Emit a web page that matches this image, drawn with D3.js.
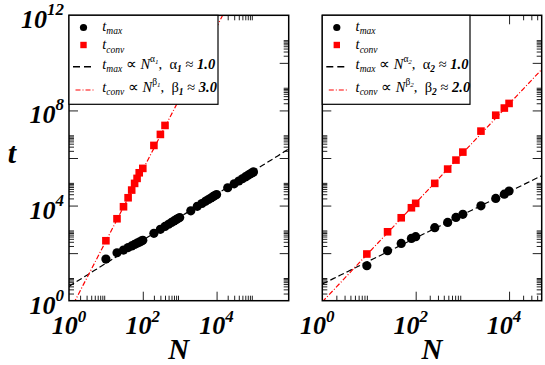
<!DOCTYPE html>
<html lang="en">
<head>
<meta charset="utf-8">
<title>t vs N</title>
<script src="https://cdn.jsdelivr.net/npm/d3@7"></script>
<style>
body { margin: 0; background: #fff; }
svg text { font-family: "Liberation Serif", "Times New Roman", serif; white-space: pre; }
</style>
</head>
<body>
<script>
// left panel data
var nMaxL = [10,20,30,40,50,60,70,80,90,100,200,300,400,500,600,700,800,900,1000,
             2000,3000,4000,5000,6000,7000,8000,9000,10000,
             20000,30000,40000,50000,60000,70000,80000,90000,100000];
var tMaxL = [56,104,135,172,200,232,262,290,318,345,680,1000,1330,1640,1950,2250,2560,2860,3150,
             6000,9300,12200,15100,18000,20800,23600,26400,29000,
             56000,82000,108000,134000,160000,185000,210000,236000,260000];
var nConvL = [10,20,30,40,50,60,70,80,100,200,300,400];
var tConvL = [332,2790,8910,21300,44800,85700,139000,239000,366000,3380000,9800000,23400000];

// right panel data
var nR = [9,25,49,81,100,256,484,729,1024,2500,5184,7921,10000];
var tMaxR = [29.5,126,257,417,490,1175,1950,3160,4270,9770,20000,30200,40700];
var tConvR = [92,790,3070,8090,12400,85700,342000,817000,1770000,13500000,63000000,126000000,197000000];

// fits: [prefactor, exponent]
var fitMaxL = [4.0, 0.97], fitConvL = [0.32, 3.0];
var fitMaxR = [5.0, 0.97], fitConvR = [0.89, 2.08];

var xMajor = [1, 100, 10000, 1000000];
var yMajor = [1, 100, 1e4, 1e6, 1e8, 1e10, 1e12];
var xLabelExp = [0, 2, 4];
var yLabelExp = [0, 4, 8, 12];

var panels = [
  {x0: 69, x1: 288.7, nTop: 9e5, nMax: nMaxL, tMax: tMaxL, nConv: nConvL, tConv: tConvL,
   fitMax: fitMaxL, fitConv: fitConvL, idx: "1", a: "1.0", b: "3.0", legW: 149, yLabels: true, labShift: 0},
  {x0: 322.3, x1: 541.7, nTop: 5e4, nMax: nR, tMax: tMaxR, nConv: nR, tConv: tConvR,
   fitMax: fitMaxR, fitConv: fitConvR, idx: "2", a: "1.0", b: "2.0", legW: 147.7, yLabels: false, labShift: -5}
];

var W = 545, H = 365, yTop = 15.3, yBot = 300.7;

var svg = d3.select("body").append("svg").attr("width", W).attr("height", H);

var y = d3.scaleLog().domain([1, 1e12]).range([yBot, yTop]);

function minors(decades, lo, hi) {
  var out = [];
  decades.forEach(function(d) {
    for (var k = 2; k <= 9; k++) {
      var v = k * Math.pow(10, d);
      if (v > lo && v < hi) out.push(v);
    }
  });
  return out;
}

// rich text: parts with size, baseline offset, style
function rich(g, x, yy, parts) {
  var t = g.append("text").attr("x", x).attr("y", yy);
  var prev = 0;
  parts.forEach(function(p) {
    var off = p.off || 0;
    t.append("tspan")
      .attr("dy", off - prev)
      .attr("font-size", p.s || 14.5)
      .attr("font-style", p.up ? "normal" : "italic")
      .attr("font-weight", p.b ? "bold" : "normal")
      .text(p.t);
    prev = off;
  });
  return t;
}

panels.forEach(function(p, pi) {
  var x = d3.scaleLog().domain([1, p.nTop]).range([p.x0, p.x1]);
  var g = svg.append("g");

  var clipId = "clip" + pi;
  svg.append("clipPath").attr("id", clipId).append("rect")
    .attr("x", p.x0).attr("y", yTop).attr("width", p.x1 - p.x0).attr("height", yBot - yTop);

  var xMin = minors([0, 2, 4], 1, p.nTop);
  var yMin = minors([0, 2, 4, 6, 8, 10], 1, 1e12);
  var xMaj = xMajor.filter(function(v) { return v > 1 && v < p.nTop; });
  var yMaj = yMajor.filter(function(v) { return v > 1 && v < 1e12; });

  function ax(axis, tr) {
    g.append("g").attr("class", "axis").attr("transform", tr).call(axis)
      .call(function(s) { s.select(".domain").remove(); })
      .selectAll("line").attr("stroke", "#222").attr("stroke-width", 1);
  }
  ax(d3.axisBottom(x).tickValues(xMaj).tickSize(-9).tickFormat(""), "translate(0," + yBot + ")");
  ax(d3.axisBottom(x).tickValues(xMin).tickSize(-5).tickFormat(""), "translate(0," + yBot + ")");
  ax(d3.axisTop(x).tickValues(xMaj).tickSize(-9).tickFormat(""), "translate(0," + yTop + ")");
  ax(d3.axisTop(x).tickValues(xMin).tickSize(-5).tickFormat(""), "translate(0," + yTop + ")");
  ax(d3.axisLeft(y).tickValues(yMaj).tickSize(-9).tickFormat(""), "translate(" + p.x0 + ",0)");
  ax(d3.axisLeft(y).tickValues(yMin).tickSize(-5).tickFormat(""), "translate(" + p.x0 + ",0)");
  ax(d3.axisRight(y).tickValues(yMaj).tickSize(-9).tickFormat(""), "translate(" + p.x1 + ",0)");
  ax(d3.axisRight(y).tickValues(yMin).tickSize(-5).tickFormat(""), "translate(" + p.x1 + ",0)");

  // fit lines
  var fitPts = function(f) {
    var ns = d3.range(0, 61).map(function(i) { return Math.pow(10, i * Math.log10(p.nTop) / 60); });
    return ns.map(function(n) { return [n, f[0] * Math.pow(n, f[1])]; });
  };
  var line = d3.line()
    .x(function(d) { return x(d[0]); })
    .y(function(d) { return y(Math.max(d[1], 1e-3)); });
  var lines = g.append("g").attr("clip-path", "url(#" + clipId + ")");
  lines.append("path").datum(fitPts(p.fitMax)).attr("d", line)
    .attr("fill", "none").attr("stroke", "#000").attr("stroke-width", 1.2).attr("stroke-dasharray", "6,3");
  lines.append("path").datum(fitPts(p.fitConv)).attr("d", line)
    .attr("fill", "none").attr("stroke", "#ff0000").attr("stroke-width", 1.2).attr("stroke-dasharray", "5,2,1,2");

  // markers
  lines.selectAll("circle.m").data(d3.zip(p.nMax, p.tMax)).enter().append("circle")
    .attr("cx", function(d) { return x(d[0]); })
    .attr("cy", function(d) { return y(d[1]); })
    .attr("r", 4.6).attr("fill", "#000");
  lines.selectAll("rect.c").data(d3.zip(p.nConv, p.tConv)).enter().append("rect")
    .attr("x", function(d) { return x(d[0]) - 3.8; })
    .attr("y", function(d) { return y(d[1]) - 3.8; })
    .attr("width", 7.6).attr("height", 7.6).attr("fill", "#ff0000");

  // frame
  g.append("rect").attr("x", p.x0).attr("y", yTop).attr("width", p.x1 - p.x0).attr("height", yBot - yTop)
    .attr("fill", "none").attr("stroke", "#000").attr("stroke-width", 1.5);

  // legend
  var lg = g.append("g");
  lg.append("rect").attr("x", p.x0).attr("y", yTop).attr("width", p.legW).attr("height", 104.3 - yTop)
    .attr("fill", "#fff").attr("stroke", "#000").attr("stroke-width", 1.2);
  var sx = p.x0 + 14.5, tx = p.x0 + 33.3;
  lg.append("circle").attr("cx", sx).attr("cy", 27.5).attr("r", 3.6).attr("fill", "#000");
  lg.append("rect").attr("x", sx - 3.2).attr("y", 41.8).attr("width", 6.4).attr("height", 6.4).attr("fill", "#ff0000");
  lg.append("line").attr("x1", sx - 10.5).attr("x2", sx + 8).attr("y1", 66.7).attr("y2", 66.7)
    .attr("stroke", "#000").attr("stroke-width", 1.5).attr("stroke-dasharray", "7,4");
  lg.append("line").attr("x1", sx - 8).attr("x2", sx + 10).attr("y1", 90).attr("y2", 90)
    .attr("stroke", "#ff0000").attr("stroke-width", 1.2).attr("stroke-dasharray", "5,2,1,2");
  rich(lg, tx, 30.5, [{t: "t"}, {t: "max", s: 9.5, off: 3.5}]);
  rich(lg, tx, 49, [{t: "t"}, {t: "conv", s: 9.5, off: 3.5}]);
  rich(lg, tx, 68.5, [{t: "t"}, {t: "max", s: 9.5, off: 3.5}, {t: " \u221D ", up: true},
    {t: "N"}, {t: "\u03B1", s: 9.5, off: -7, up: true}, {t: p.idx, s: 7, off: -5},
    {t: ",  ", up: true}, {t: "\u03B1", up: true}, {t: p.idx, s: 9.5, off: 3.5, b: true},
    {t: " \u2248 ", up: true}, {t: p.a, b: true}]);
  rich(lg, tx, 91.5, [{t: "t"}, {t: "conv", s: 9.5, off: 3.5}, {t: " \u221D ", up: true},
    {t: "N"}, {t: "\u03B2", s: 9.5, off: -7, up: true}, {t: p.idx, s: 7, off: -5},
    {t: ",  ", up: true}, {t: "\u03B2", up: true}, {t: p.idx, s: 9.5, off: 3.5, b: true},
    {t: " \u2248 ", up: true}, {t: p.b, b: true}]);

  // x tick labels
  xLabelExp.forEach(function(e) {
    var t = g.append("text").attr("x", x(Math.pow(10, e)) + p.labShift).attr("y", 334)
      .attr("text-anchor", "middle").attr("font-style", "italic").attr("font-weight", "bold");
    t.append("tspan").attr("font-size", 26).text("10");
    t.append("tspan").attr("font-size", 17).attr("dy", -12).text(e);
  });
  // N label
  g.append("text").attr("x", (p.x0 + p.x1) / 2).attr("y", 359).attr("text-anchor", "middle")
    .attr("font-size", 29).attr("font-style", "italic").attr("font-weight", "bold").text("N");

  if (p.yLabels) {
    yLabelExp.forEach(function(e) {
      var t = g.append("text").attr("x", 64).attr("y", y(Math.pow(10, e)) + 13)
        .attr("text-anchor", "end").attr("font-style", "italic").attr("font-weight", "bold");
      t.append("tspan").attr("font-size", 26).text("10");
      t.append("tspan").attr("font-size", 17).attr("dy", -13).text(e);
    });
    g.append("text").attr("x", 12).attr("y", 163).attr("text-anchor", "middle")
      .attr("font-size", 30).attr("font-style", "italic").attr("font-weight", "bold").text("t");
  }
});
</script>
</body>
</html>
